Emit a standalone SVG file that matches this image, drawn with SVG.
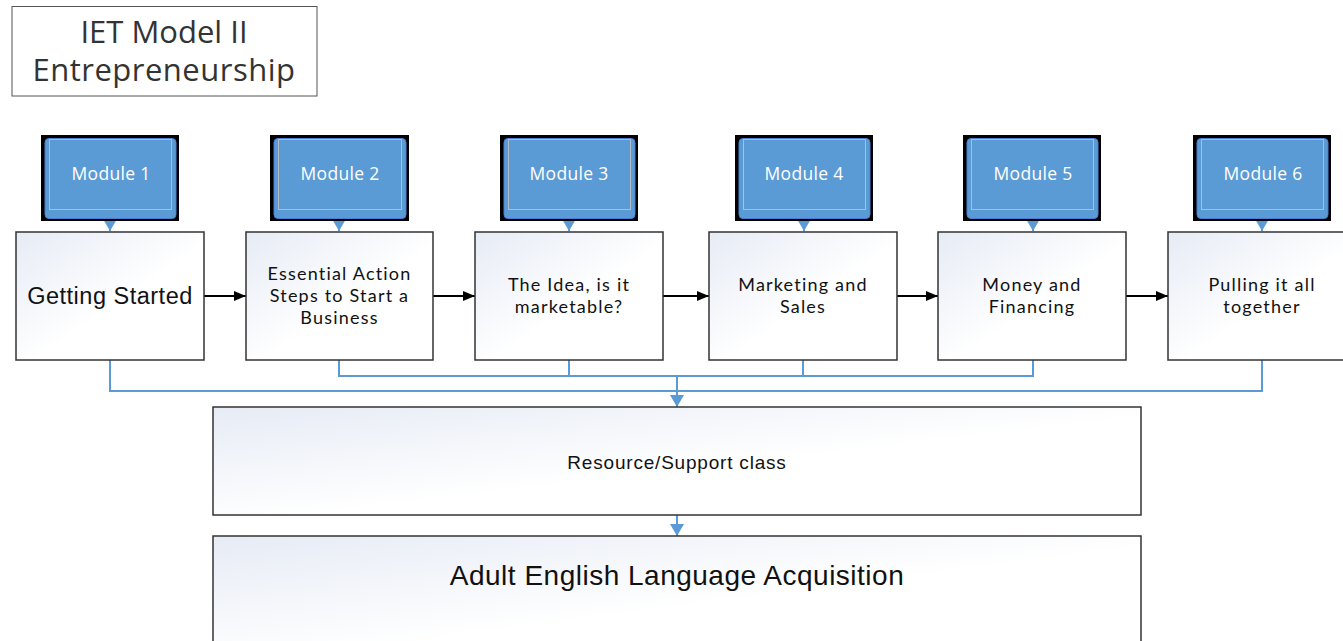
<svg xmlns="http://www.w3.org/2000/svg" width="1343" height="641" viewBox="0 0 1343 641">
<style>
.box{stroke:#333;stroke-width:1.5;fill:url(#g)}
.mk{fill:#000}
.mb{fill:#5b9bd5;stroke:#4a7fd8;stroke-width:1}
.mi{fill:none;stroke:#b4bccb;stroke-width:1}
.mt{font-family:"Open Sans",sans-serif;font-size:17.5px;fill:#fff;text-anchor:middle;letter-spacing:0.3px}
.t1{font-family:Lato,"Open Sans",sans-serif;font-size:18px;fill:#111;text-anchor:middle;letter-spacing:1.2px}
.ta{font-family:"Liberation Sans",Arial,sans-serif;fill:#111;text-anchor:middle}
.bl{fill:none;stroke:#5b9bd5;stroke-width:2}
.bk{fill:none;stroke:#000;stroke-width:2}
</style>
<defs>
<linearGradient id="g" x1="0" y1="0" x2="1" y2="1">
<stop offset="0" stop-color="#e6ebf5"/>
<stop offset="0.55" stop-color="#ffffff"/>
<stop offset="1" stop-color="#ffffff"/>
</linearGradient>
<marker id="ab" markerWidth="12" markerHeight="10" refX="12" refY="5" orient="auto" markerUnits="userSpaceOnUse"><path d="M0,0 L12,5 L0,10 Z" fill="#000"/></marker>
<marker id="ablue" markerWidth="12" markerHeight="14" refX="12" refY="7" orient="auto" markerUnits="userSpaceOnUse"><path d="M0,0 L12,7 L0,14 Z" fill="#5b9bd5"/></marker>
</defs>
<rect width="1343" height="641" fill="#fff"/>

<g id="title">
<rect x="12" y="6.5" width="305" height="89.5" fill="#fff" stroke="#555" stroke-width="1"/>
<text x="164" y="43" font-family="Open Sans,sans-serif" font-size="31" fill="#333" text-anchor="middle">IET Model II</text>
<text x="164" y="81" font-family="Open Sans,sans-serif" font-size="31" fill="#333" text-anchor="middle" letter-spacing="0.5">Entrepreneurship</text>
</g>

<g id="connectors">
<path class="bl" d="M110,360 V391 H1262 V360"/>
<path class="bl" d="M339,360 V376 H1033 V360 M569,360 V376 M803,360 V376"/>
<path class="bl" d="M677,376 V407" marker-end="url(#ablue)"/>
<path class="bl" d="M677,515 V536" marker-end="url(#ablue)"/>
<path class="bl" d="M110,209 V231" marker-end="url(#ablue)"/>
<path class="bl" d="M339,209 V231" marker-end="url(#ablue)"/>
<path class="bl" d="M569,209 V231" marker-end="url(#ablue)"/>
<path class="bl" d="M804,209 V231" marker-end="url(#ablue)"/>
<path class="bl" d="M1033,209 V231" marker-end="url(#ablue)"/>
<path class="bl" d="M1262,209 V231" marker-end="url(#ablue)"/>
<path class="bk" d="M204,296 H246" marker-end="url(#ab)"/>
<path class="bk" d="M433,296 H475" marker-end="url(#ab)"/>
<path class="bk" d="M663,296 H709" marker-end="url(#ab)"/>
<path class="bk" d="M897,296 H938" marker-end="url(#ab)"/>
<path class="bk" d="M1126,296 H1168" marker-end="url(#ab)"/>
</g>

<g id="module1"><rect class="mk" x="41" y="135" width="138" height="86"/><rect class="mb" x="45" y="138.5" width="131" height="80" rx="4"/><rect class="mi" x="49.5" y="139.5" width="122" height="70"/><text class="mt" x="111" y="180">Module 1</text></g>
<g id="module2"><rect class="mk" x="270" y="135" width="139" height="86"/><rect class="mb" x="274" y="138.5" width="132" height="80" rx="4"/><rect class="mi" x="278.5" y="139.5" width="123" height="70"/><text class="mt" x="340" y="180">Module 2</text></g>
<g id="module3"><rect class="mk" x="500" y="135" width="138" height="86"/><rect class="mb" x="504" y="138.5" width="131" height="80" rx="4"/><rect class="mi" x="508.5" y="139.5" width="122" height="70"/><text class="mt" x="569" y="180">Module 3</text></g>
<g id="module4"><rect class="mk" x="735" y="135" width="138" height="86"/><rect class="mb" x="739" y="138.5" width="131" height="80" rx="4"/><rect class="mi" x="743.5" y="139.5" width="122" height="70"/><text class="mt" x="804" y="180">Module 4</text></g>
<g id="module5"><rect class="mk" x="963" y="135" width="138" height="86"/><rect class="mb" x="967" y="138.5" width="131" height="80" rx="4"/><rect class="mi" x="971.5" y="139.5" width="122" height="70"/><text class="mt" x="1033" y="180">Module 5</text></g>
<g id="module6"><rect class="mk" x="1193" y="135" width="138" height="86"/><rect class="mb" x="1197" y="138.5" width="131" height="80" rx="4"/><rect class="mi" x="1201.5" y="139.5" width="122" height="70"/><text class="mt" x="1263" y="180">Module 6</text></g>

<g id="box1"><rect class="box" x="16" y="232" width="188" height="128"/><text class="ta" x="110" y="304" font-size="23.5" letter-spacing="0.5">Getting Started</text></g>
<g id="box2"><rect class="box" x="246" y="232" width="187" height="128"/><text class="t1" x="339.5" y="280">Essential Action</text><text class="t1" x="339.5" y="302">Steps to Start a</text><text class="t1" x="339.5" y="324">Business</text></g>
<g id="box3"><rect class="box" x="475" y="232" width="188" height="128"/><text class="t1" x="569" y="291">The Idea, is it</text><text class="t1" x="569" y="313">marketable?</text></g>
<g id="box4"><rect class="box" x="709" y="232" width="188" height="128"/><text class="t1" x="803" y="291">Marketing and</text><text class="t1" x="803" y="313">Sales</text></g>
<g id="box5"><rect class="box" x="938" y="232" width="188" height="128"/><text class="t1" x="1032" y="291">Money and</text><text class="t1" x="1032" y="313">Financing</text></g>
<g id="box6"><rect class="box" x="1168" y="232" width="188" height="128"/><text class="t1" x="1262" y="291">Pulling it all</text><text class="t1" x="1262" y="313">together</text></g>

<g id="resource"><rect class="box" x="213" y="407" width="928" height="108"/><text class="ta" x="677" y="469" font-size="19" letter-spacing="0.8">Resource/Support class</text></g>
<g id="adult"><rect class="box" x="213" y="536" width="928" height="120"/><text class="ta" x="677" y="585" font-size="28" letter-spacing="0.5">Adult English Language Acquisition</text></g>
</svg>
